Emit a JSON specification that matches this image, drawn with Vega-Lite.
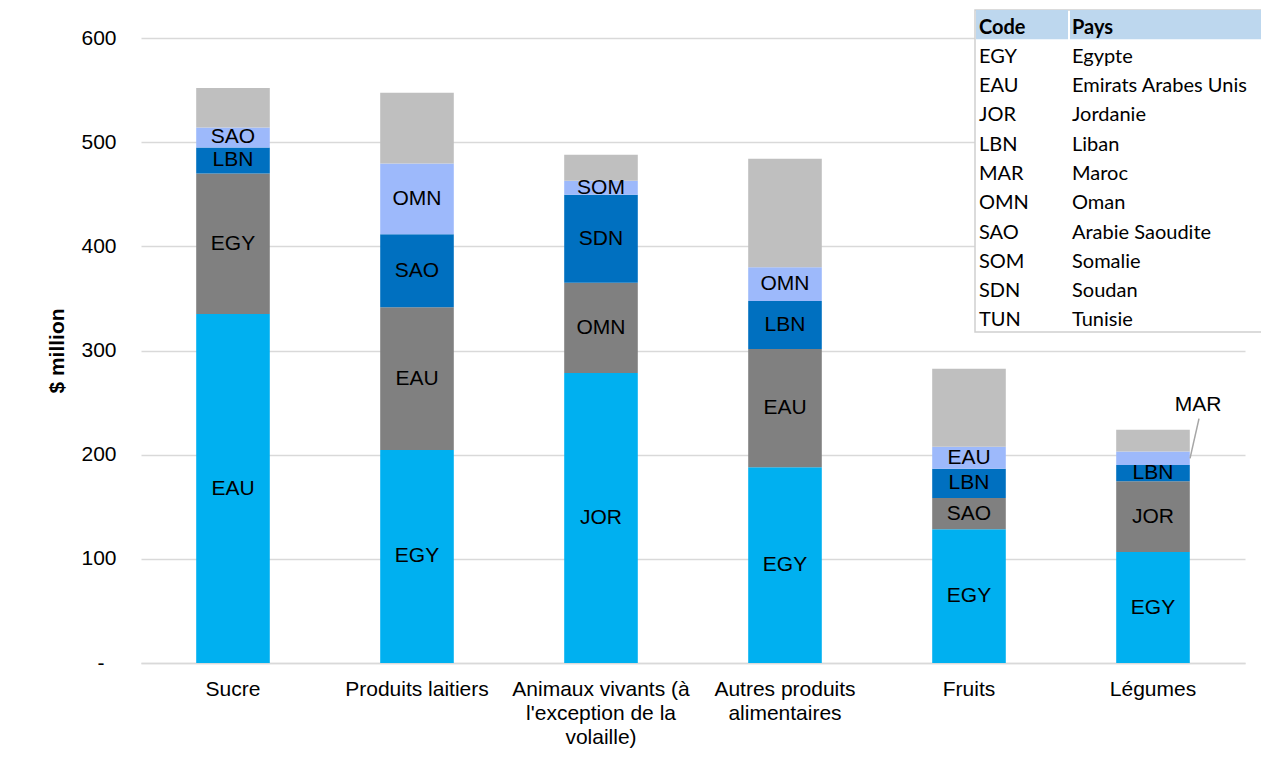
{
  "$schema": "https://vega.github.io/schema/vega-lite/v6.json",
  "width": 1104,
  "height": 625,
  "autosize": {"type": "none"},
  "padding": {"left": 141, "top": 38, "right": 16, "bottom": 95},
  "background": "white",
  "config": {"font": "Liberation Sans", "view": {"stroke": null}},
  "resolve": {"scale": {"x": "independent", "y": "independent"}},
  "layer": [
    {
      "data": {
        "values": [
          {"categorie": "Sucre", "rang": 1, "code": "EAU", "valeur": 335},
          {"categorie": "Sucre", "rang": 2, "code": "EGY", "valeur": 135},
          {"categorie": "Sucre", "rang": 3, "code": "LBN", "valeur": 25},
          {"categorie": "Sucre", "rang": 4, "code": "SAO", "valeur": 19},
          {"categorie": "Sucre", "rang": 5, "code": "Autres", "valeur": 38},
          {"categorie": "Produits laitiers", "rang": 1, "code": "EGY", "valeur": 204.5},
          {"categorie": "Produits laitiers", "rang": 2, "code": "EAU", "valeur": 137},
          {"categorie": "Produits laitiers", "rang": 3, "code": "SAO", "valeur": 70},
          {"categorie": "Produits laitiers", "rang": 4, "code": "OMN", "valeur": 68},
          {"categorie": "Produits laitiers", "rang": 5, "code": "Autres", "valeur": 68},
          {"categorie": "Animaux vivants (à l'exception de la volaille)", "rang": 1, "code": "JOR", "valeur": 278.5},
          {"categorie": "Animaux vivants (à l'exception de la volaille)", "rang": 2, "code": "OMN", "valeur": 86.5},
          {"categorie": "Animaux vivants (à l'exception de la volaille)", "rang": 3, "code": "SDN", "valeur": 84.5},
          {"categorie": "Animaux vivants (à l'exception de la volaille)", "rang": 4, "code": "SOM", "valeur": 13.5},
          {"categorie": "Animaux vivants (à l'exception de la volaille)", "rang": 5, "code": "Autres", "valeur": 25},
          {"categorie": "Autres produits alimentaires", "rang": 1, "code": "EGY", "valeur": 188},
          {"categorie": "Autres produits alimentaires", "rang": 2, "code": "EAU", "valeur": 113.5},
          {"categorie": "Autres produits alimentaires", "rang": 3, "code": "LBN", "valeur": 46},
          {"categorie": "Autres produits alimentaires", "rang": 4, "code": "OMN", "valeur": 32.5},
          {"categorie": "Autres produits alimentaires", "rang": 5, "code": "Autres", "valeur": 104},
          {"categorie": "Fruits", "rang": 1, "code": "EGY", "valeur": 128.5},
          {"categorie": "Fruits", "rang": 2, "code": "SAO", "valeur": 30},
          {"categorie": "Fruits", "rang": 3, "code": "LBN", "valeur": 28},
          {"categorie": "Fruits", "rang": 4, "code": "EAU", "valeur": 21},
          {"categorie": "Fruits", "rang": 5, "code": "Autres", "valeur": 75},
          {"categorie": "Légumes", "rang": 1, "code": "EGY", "valeur": 106.5},
          {"categorie": "Légumes", "rang": 2, "code": "JOR", "valeur": 68},
          {"categorie": "Légumes", "rang": 3, "code": "LBN", "valeur": 15.5},
          {"categorie": "Légumes", "rang": 4, "code": "MAR", "valeur": 13},
          {"categorie": "Légumes", "rang": 5, "code": "Autres", "valeur": 21}
        ]
      },
      "transform": [
        {"stack": "valeur", "groupby": ["categorie"], "sort": [{"field": "rang", "order": "ascending"}], "as": ["v0", "v1"]},
        {"calculate": "(datum.v0 + datum.v1) / 2", "as": "milieu"}
      ],
      "encoding": {
        "x": {
          "field": "categorie",
          "type": "nominal",
          "sort": null,
          "scale": {"paddingInner": 0.6, "paddingOuter": 0.3},
          "axis": {
            "title": null,
            "labelAngle": 0,
            "labelFontSize": 21,
            "labelColor": "#000000",
            "labelLineHeight": 24,
            "labelPadding": 15,
            "labelLimit": 400,
            "ticks": false,
            "tickSize": 0,
            "domain": true,
            "domainColor": "#D9D9D9",
            "domainWidth": 1.5,
            "labelExpr": "indexof(datum.value, 'Animaux') == 0 ? ['Animaux vivants (à', \"l'exception de la\", 'volaille)'] : indexof(datum.value, 'Autres') == 0 ? ['Autres produits', 'alimentaires'] : datum.label"
          }
        }
      },
      "layer": [
        {
          "mark": {"type": "bar"},
          "encoding": {
            "y": {
              "field": "v0",
              "type": "quantitative",
              "scale": {"domain": [0, 600], "nice": false},
              "title": "$ million",
              "axis": {
                "values": [0, 100, 200, 300, 400, 500, 600],
                "labelExpr": "datum.value == 0 ? '-' : datum.label",
                "domain": false,
                "ticks": false,
                "tickSize": 0,
                "labelFontSize": 21,
                "labelColor": "#000000",
                "labelPadding": {"condition": {"test": "datum.value == 0", "value": 37}, "value": 25},
                "grid": true,
                "gridColor": "#D9D9D9",
                "gridWidth": 1.5,
                "titleFontSize": 21,
                "titleFontWeight": "bold",
                "titleColor": "#000000",
                "titlePadding": 13
              }
            },
            "y2": {"field": "v1"},
            "color": {
              "field": "rang",
              "type": "nominal",
              "scale": {"domain": [1, 2, 3, 4, 5], "range": ["#00B0F0", "#808080", "#0070C0", "#9DB9FB", "#BFBFBF"]},
              "legend": null
            }
          }
        },
        {
          "transform": [{"filter": "datum.rang < 5 && datum.code != 'MAR'"}],
          "mark": {"type": "text", "fontSize": 21, "color": "#000000", "baseline": "middle"},
          "encoding": {
            "y": {"field": "milieu", "type": "quantitative"},
            "text": {"field": "code"}
          }
        },
        {
          "transform": [{"filter": "datum.code == 'MAR'"}],
          "mark": {"type": "rule", "color": "#A6A6A6", "strokeWidth": 1.5, "xOffset": 37, "x2Offset": 46, "y2Offset": -33},
          "encoding": {
            "x2": {"field": "categorie"},
            "y": {"field": "milieu", "type": "quantitative"},
            "y2": {"field": "v1"}
          }
        },
        {
          "transform": [{"filter": "datum.code == 'MAR'"}],
          "mark": {"type": "text", "fontSize": 21, "color": "#000000", "baseline": "middle", "dx": 45, "dy": -47},
          "encoding": {
            "y": {"field": "v1", "type": "quantitative"},
            "text": {"field": "code"}
          }
        }
      ]
    },
    {
      "data": {
        "values": [
          {"ligne": 0, "colonne": "Code", "texte": "Code"},
          {"ligne": 0, "colonne": "Pays", "texte": "Pays"},
          {"ligne": 1, "colonne": "Code", "texte": "EGY"},
          {"ligne": 1, "colonne": "Pays", "texte": "Egypte"},
          {"ligne": 2, "colonne": "Code", "texte": "EAU"},
          {"ligne": 2, "colonne": "Pays", "texte": "Emirats Arabes Unis"},
          {"ligne": 3, "colonne": "Code", "texte": "JOR"},
          {"ligne": 3, "colonne": "Pays", "texte": "Jordanie"},
          {"ligne": 4, "colonne": "Code", "texte": "LBN"},
          {"ligne": 4, "colonne": "Pays", "texte": "Liban"},
          {"ligne": 5, "colonne": "Code", "texte": "MAR"},
          {"ligne": 5, "colonne": "Pays", "texte": "Maroc"},
          {"ligne": 6, "colonne": "Code", "texte": "OMN"},
          {"ligne": 6, "colonne": "Pays", "texte": "Oman"},
          {"ligne": 7, "colonne": "Code", "texte": "SAO"},
          {"ligne": 7, "colonne": "Pays", "texte": "Arabie Saoudite"},
          {"ligne": 8, "colonne": "Code", "texte": "SOM"},
          {"ligne": 8, "colonne": "Pays", "texte": "Somalie"},
          {"ligne": 9, "colonne": "Code", "texte": "SDN"},
          {"ligne": 9, "colonne": "Pays", "texte": "Soudan"},
          {"ligne": 10, "colonne": "Code", "texte": "TUN"},
          {"ligne": 10, "colonne": "Pays", "texte": "Tunisie"}
        ]
      },
      "layer": [
        {
          "transform": [{"filter": "datum.ligne == 0 && datum.colonne == 'Code'"}],
          "mark": {"type": "rect", "fill": "#FFFFFF", "stroke": "#D0D0D0", "strokeWidth": 1.5, "xOffset": -4, "x2Offset": 340},
          "encoding": {
            "x": {"datum": "Code", "type": "nominal", "scale": {"type": "point", "domain": ["Code", "Pays"], "range": [838, 931], "padding": 0}, "axis": null},
            "x2": {"datum": "Pays"},
            "y": {"datum": -0.5, "type": "quantitative", "scale": {"domain": [-0.5, 10.5], "range": [-28, 294], "nice": false, "zero": false}, "axis": null},
            "y2": {"datum": 10.5}
          }
        },
        {
          "transform": [{"filter": "datum.ligne == 0 && datum.colonne == 'Code'"}],
          "mark": {"type": "rect", "fill": "#BDD7EE", "xOffset": -3, "x2Offset": -4},
          "encoding": {
            "x": {"datum": "Code", "type": "nominal"},
            "x2": {"datum": "Pays"},
            "y": {"datum": -0.5, "type": "quantitative"},
            "y2": {"datum": 0.5}
          }
        },
        {
          "transform": [{"filter": "datum.ligne == 0 && datum.colonne == 'Pays'"}],
          "mark": {"type": "rect", "fill": "#BDD7EE", "xOffset": -2, "x2Offset": 340},
          "encoding": {
            "x": {"datum": "Pays", "type": "nominal"},
            "x2": {"datum": "Pays"},
            "y": {"datum": -0.5, "type": "quantitative"},
            "y2": {"datum": 0.5}
          }
        },
        {
          "transform": [{"filter": "datum.ligne == 0"}],
          "mark": {"type": "text", "font": "Lato", "fontSize": 20, "fontWeight": "bold", "align": "left", "baseline": "middle", "dy": 3, "color": "#000000"},
          "encoding": {
            "x": {"field": "colonne", "type": "nominal"},
            "y": {"field": "ligne", "type": "quantitative"},
            "text": {"field": "texte"}
          }
        },
        {
          "transform": [{"filter": "datum.ligne > 0"}],
          "mark": {"type": "text", "font": "Lato", "fontSize": 20, "align": "left", "baseline": "middle", "dy": 3, "color": "#000000"},
          "encoding": {
            "x": {"field": "colonne", "type": "nominal"},
            "y": {"field": "ligne", "type": "quantitative"},
            "text": {"field": "texte"}
          }
        }
      ]
    }
  ]
}
